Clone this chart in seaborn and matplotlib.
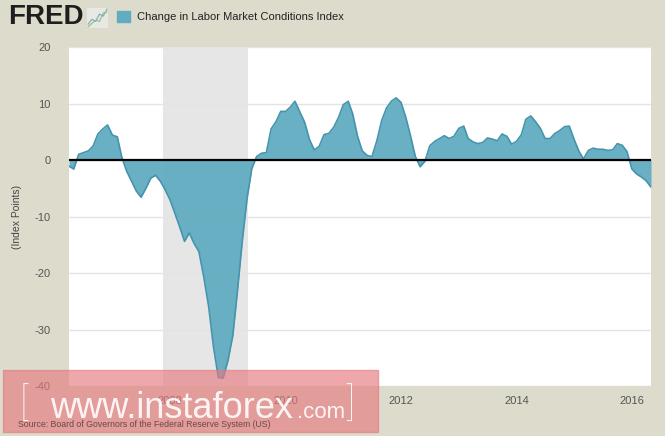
import pandas as pd
import matplotlib.pyplot as plt
import matplotlib.dates as mdates
from matplotlib.patches import Rectangle
import seaborn as sns

# monthly values, Apr 2006 - May 2016
start_month = "2006-04-01"
lmci = [
    -1.1, -1.6, 1.0, 1.3, 1.6, 2.5, 4.6, 5.5, 6.2, 4.4,
    4.1, 0.5, -2.0, -3.7, -5.5, -6.6, -5.0, -3.2, -2.7, -3.8,
    -5.3, -7.1, -9.5, -11.8, -14.4, -12.9, -14.8, -16.2, -20.7, -26.0,
    -33.0, -38.5, -38.6, -35.5, -31.0, -23.5, -14.5, -7.0, -1.5, 0.6,
    1.2, 1.3, 5.5, 6.8, 8.6, 8.6, 9.4, 10.4, 8.5, 6.7,
    3.6, 1.8, 2.4, 4.5, 4.7, 5.8, 7.5, 9.8, 10.4, 8.2,
    4.2, 1.6, 0.8, 0.6, 3.4, 7.0, 9.2, 10.4, 11.0, 10.2,
    7.5, 4.3, 0.6, -1.2, -0.2, 2.5, 3.3, 3.8, 4.3, 3.8,
    4.2, 5.6, 6.0, 3.8, 3.2, 2.9, 3.1, 3.9, 3.7, 3.4,
    4.6, 4.2, 2.8, 3.3, 4.5, 7.2, 7.8, 6.8, 5.6, 3.8,
    3.8, 4.7, 5.2, 5.9, 6.0, 3.6, 1.5, 0.2, 1.7, 2.1,
    1.9, 1.9, 1.7, 1.8, 2.9, 2.6, 1.5, -1.6, -2.5, -3.0,
    -3.7, -4.8,
]
recession = ("2007-11-15", "2009-05-10")
y_ticks = [-40, -30, -20, -10, 0, 10, 20]
x_tick_years = [2008, 2010, 2012, 2014, 2016]

df = pd.DataFrame({
    "date": pd.date_range(start_month, periods=len(lmci), freq="MS"),
    "value": lmci,
})

sns.set_theme(style="white")
plt.rcParams["font.family"] = ["Liberation Sans", "DejaVu Sans"]
plt.rcParams["axes.unicode_minus"] = False

bg = "#dcdbcc"
fill_c = "#62acc1"
line_c = "#4594ad"

fig = plt.figure(figsize=(6.65, 4.36), dpi=100, facecolor=bg)
ax = fig.add_axes([69 / 665, 1 - 386 / 436, 582 / 665, 339 / 436])
ax.set_facecolor("white")

# recession band
ax.axvspan(pd.Timestamp(recession[0]), pd.Timestamp(recession[1]),
           color="#e6e6e6", zorder=0, lw=0)

for yv in y_ticks:
    ax.axhline(yv, color="#e4e4e4", lw=1, zorder=0.5)

ax.fill_between(df["date"], df["value"], 0, color=fill_c, alpha=0.95,
                lw=0, zorder=2)
sns.lineplot(data=df, x="date", y="value", ax=ax, color=line_c, lw=1.2,
             zorder=3)
ax.axhline(0, color="black", lw=1.6, zorder=4)

ax.set_xlim(df["date"].iloc[0], df["date"].iloc[-1])
ax.set_ylim(-40, 20)
ax.set_yticks(y_ticks)
ax.set_xticks([pd.Timestamp(f"{y}-01-01") for y in x_tick_years])
ax.xaxis.set_major_formatter(mdates.DateFormatter("%Y"))
ax.tick_params(axis="both", labelsize=8, labelcolor="#555555", length=0)
ax.tick_params(axis="y", pad=13)
ax.tick_params(axis="x", pad=7)
ax.set_xlabel("")
ax.set_ylabel("")
for s in ax.spines.values():
    s.set_visible(False)

fig.text(17 / 665, 1 - 217 / 436, "(Index Points)", fontsize=7.5,
         color="#444444", rotation=90, va="center", ha="center")

# header: logo + legend
fig.text(8 / 665, 1 - 17 / 436, "FRED", fontsize=20, fontweight="bold",
         color="#1e1e1e", va="center", ha="left")
icon = fig.add_axes([87 / 665, 1 - 28 / 436, 21 / 665, 20 / 436])
icon.set_facecolor("#e8e8e4")
icon.plot([0, 1, 2, 3, 4, 5], [1, 2, 1.6, 3, 2.6, 4], color="#7aa6c8", lw=0.8)
icon.plot([0, 1, 2, 3, 4, 5], [0.5, 1.2, 1.8, 1.6, 3.2, 3.4], color="#8fc07a", lw=0.8)
icon.set_xticks([])
icon.set_yticks([])
for s in icon.spines.values():
    s.set_visible(False)

fig.patches.append(Rectangle((117 / 665, 1 - 22 / 436), 13 / 665, 11 / 436,
                             transform=fig.transFigure, color=fill_c))
fig.text(137 / 665, 1 - 17 / 436, "Change in Labor Market Conditions Index",
         fontsize=8, color="#222222", va="center", ha="left")

# watermark box
fig.patches.append(Rectangle((3 / 665, 1 - 432 / 436), 375 / 665, 62 / 436,
                             transform=fig.transFigure, color="#e67a80",
                             alpha=0.65, zorder=10))
wm = dict(color="white", alpha=0.9, zorder=11, va="baseline")
thin = dict(wm, family=["Roboto", "Liberation Sans"], fontweight="light")
fig.text(20 / 665, 1 - 416 / 436, "[", fontsize=27, **thin)
fig.text(50 / 665, 1 - 418 / 436, "www.instaforex", fontsize=26, **wm)
fig.text(297 / 665, 1 - 418 / 436, ".com", fontsize=16, **wm)
fig.text(346 / 665, 1 - 416 / 436, "]", fontsize=27, **thin)
fig.text(18 / 665, 1 - 424 / 436,
         "Source: Board of Governors of the Federal Reserve System (US)",
         fontsize=6.3, color="#6b4848", va="center", zorder=11)

fig.savefig("out.png", dpi=100, facecolor=bg)
